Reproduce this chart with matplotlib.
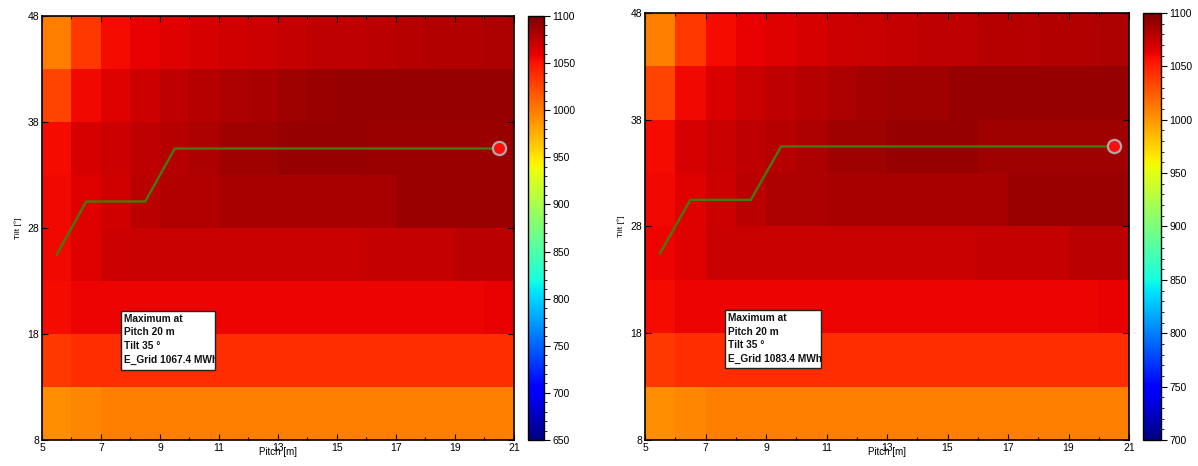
import matplotlib
matplotlib.use("Agg")
import matplotlib.pyplot as plt
import numpy as np
from matplotlib.patches import Rectangle
from matplotlib.ticker import MultipleLocator

plt.rcParams['font.family'] = ['Liberation Sans', 'DejaVu Sans']

# ---------------- data ----------------
pitch_edges = [5, 6, 7, 8, 9, 10, 11, 12, 13, 14, 15, 16, 17, 18, 19, 20, 21]
tilt_edges = [8, 13, 18, 23, 28, 33, 38, 43, 48]
pitch_centers = [5.5, 6.5, 7.5, 8.5, 9.5, 10.5, 11.5, 12.5, 13.5, 14.5, 15.5, 16.5, 17.5, 18.5, 19.5, 20.5]
opt_tilt = [25.5, 30.5, 30.5, 30.5, 35.5, 35.5, 35.5, 35.5, 35.5, 35.5, 35.5, 35.5, 35.5, 35.5, 35.5, 35.5]
max_pitch = 20.5
max_tilt = 35.5

# E_Grid [MWh], rows bottom (tilt 8-13) to top (tilt 43-48), columns pitch 5..21
egrid_left = [
    [992, 996, 999, 999, 999, 999, 999, 999, 999, 999, 999, 999, 999, 999, 999, 999],
    [1032, 1037, 1037, 1037, 1037, 1037, 1037, 1037, 1037, 1037, 1037, 1037, 1037, 1037, 1037, 1038],
    [1053, 1057, 1057, 1057, 1057, 1057, 1057, 1057, 1057, 1057, 1057, 1057, 1057, 1057, 1057, 1058],
    [1056, 1062, 1070, 1071, 1071, 1071, 1071, 1071, 1071, 1071, 1071, 1073, 1073, 1073, 1077, 1077],
    [1055, 1062, 1068, 1076, 1080, 1080, 1083, 1083, 1083, 1083, 1083, 1083, 1089, 1089, 1089, 1089],
    [1054, 1065, 1070, 1075, 1078, 1082, 1086, 1086, 1090, 1090, 1090, 1088, 1088, 1088, 1088, 1088],
    [1027, 1055, 1063, 1070, 1074, 1078, 1082, 1084, 1086, 1088, 1090, 1090, 1090, 1090, 1090, 1090],
    [999, 1032, 1054, 1058, 1063, 1066, 1068, 1070, 1072, 1074, 1075, 1077, 1078, 1080, 1080, 1081],
]
egrid_right = [
    [1004, 1007, 1010, 1010, 1010, 1010, 1010, 1010, 1010, 1010, 1010, 1010, 1010, 1010, 1010, 1010],
    [1040, 1044, 1044, 1044, 1044, 1044, 1044, 1044, 1044, 1044, 1044, 1044, 1044, 1044, 1044, 1045],
    [1059, 1062, 1062, 1062, 1062, 1062, 1062, 1062, 1062, 1062, 1062, 1062, 1062, 1062, 1062, 1063],
    [1061, 1067, 1074, 1074, 1074, 1074, 1074, 1074, 1074, 1074, 1074, 1076, 1076, 1076, 1079, 1079],
    [1060, 1066, 1072, 1079, 1083, 1083, 1085, 1085, 1085, 1085, 1085, 1085, 1090, 1090, 1090, 1090],
    [1059, 1069, 1074, 1078, 1081, 1084, 1088, 1088, 1091, 1091, 1091, 1089, 1089, 1089, 1089, 1089],
    [1035, 1060, 1068, 1074, 1077, 1081, 1084, 1086, 1088, 1089, 1091, 1091, 1091, 1091, 1091, 1091],
    [1010, 1040, 1059, 1063, 1067, 1070, 1072, 1074, 1075, 1077, 1078, 1080, 1081, 1082, 1082, 1083],
]
x_ticks = [5, 7, 9, 11, 13, 15, 17, 19, 21]
y_ticks = [8, 18, 28, 38, 48]
cbar_ticks_left = [650, 700, 750, 800, 850, 900, 950, 1000, 1050, 1100]
cbar_ticks_right = [700, 750, 800, 850, 900, 950, 1000, 1050, 1100]
box_lines_left = ["Maximum at", "Pitch 20 m", "Tilt 35 °", "E_Grid 1067.4 MWh"]
box_lines_right = ["Maximum at", "Pitch 20 m", "Tilt 35 °", "E_Grid 1083.4 MWh"]

W, H = 1198, 466
fig = plt.figure(figsize=(W / 100, H / 100), dpi=100)


def px(x0, y0, x1, y1):
    return [x0 / W, 1 - y1 / H, (x1 - x0) / W, (y1 - y0) / H]


def panel(ax_rect, cax_rect, data, vmin, vmax, cticks, lines, box):
    ax = fig.add_axes(ax_rect)
    cax = fig.add_axes(cax_rect)
    mesh = ax.pcolormesh(pitch_edges, tilt_edges, np.array(data), cmap='jet',
                         vmin=vmin, vmax=vmax, shading='flat')
    ax.plot(pitch_centers, opt_tilt, color='#447a0c', lw=1.7, zorder=3)
    ax.plot([max_pitch], [max_tilt], 'o', ms=9.5, mfc='#ff0d0d', mec='#b0a8a8',
            mew=1.6, zorder=4)
    ax.set_xlim(5, 21)
    ax.set_ylim(8, 48)
    ax.set_xticks(x_ticks)
    ax.set_yticks(y_ticks)
    ax.xaxis.set_minor_locator(MultipleLocator(1))
    ax.tick_params(which='both', direction='in', top=True, right=True,
                   labelsize=7.5, length=4, width=0.8, pad=2)
    ax.tick_params(which='minor', length=2.5)
    for s in ax.spines.values():
        s.set_linewidth(1.2)
    ax.set_xlabel('Pitch [m]', fontsize=7, labelpad=-4)
    ax.set_ylabel('Tilt [°]', fontsize=6, labelpad=4)
    bx, by, bw, bh = box
    rect = Rectangle((bx, by), bw, bh, facecolor='white', edgecolor='#222222',
                     lw=1.0, zorder=5)
    ax.add_patch(rect)
    t = ax.text(bx + 0.1, by + bh - 0.3, "\n".join(lines), fontsize=7.3,
                fontweight='bold', va='top', ha='left', linespacing=1.45,
                zorder=6, color='#111111')
    t.set_clip_path(rect)
    t.set_clip_on(True)
    cb = fig.colorbar(mesh, cax=cax, ticks=cticks)
    cb.ax.yaxis.set_minor_locator(MultipleLocator(10))
    cb.ax.tick_params(which='major', labelsize=7.5, length=4, width=0.8, pad=2)
    cb.ax.tick_params(which='minor', length=2, width=0.6)
    cb.outline.set_linewidth(1.0)
    return ax


panel(px(42, 16, 514, 440), px(528, 16, 544, 440), egrid_left, 650, 1100,
      cbar_ticks_left, box_lines_left, (7.68, 14.6, 3.19, 5.6))
panel(px(645, 13, 1129, 440), px(1143, 13, 1161, 440), egrid_right, 700, 1100,
      cbar_ticks_right, box_lines_right, (7.64, 14.75, 3.17, 5.45))

fig.savefig('out.png', dpi=100)
